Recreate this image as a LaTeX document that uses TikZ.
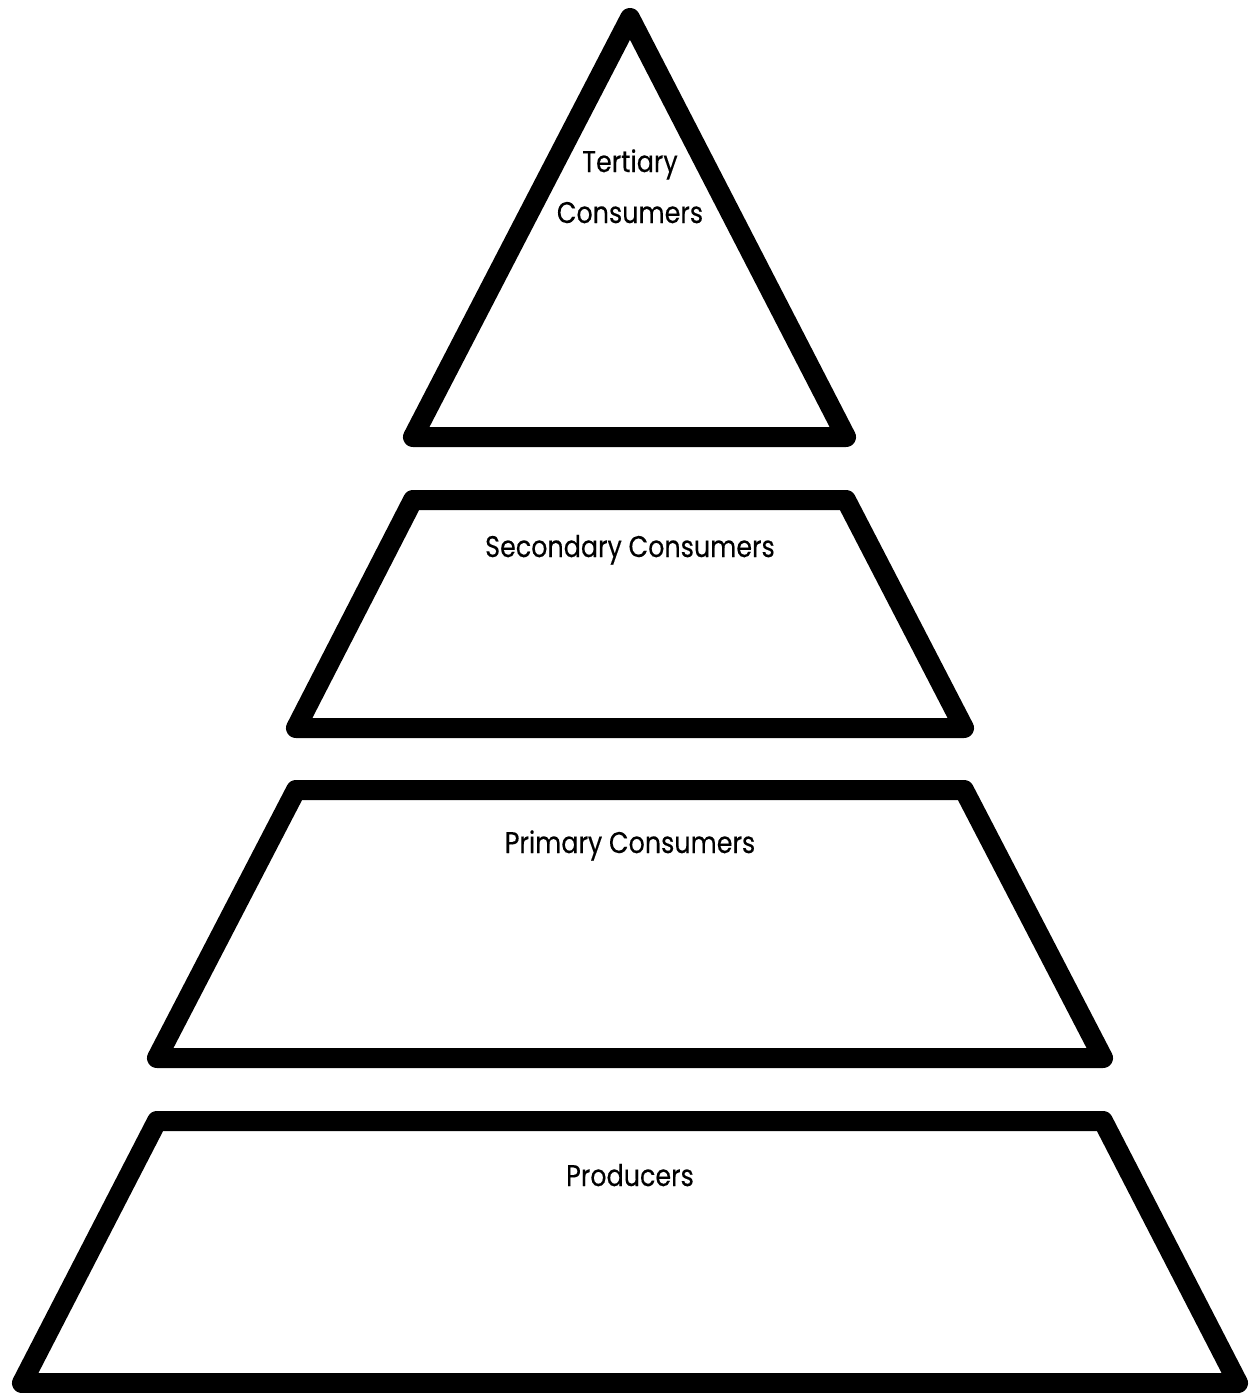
\documentclass[tikz,border=0pt]{standalone}
\usepackage{fontspec}
\setmainfont{Poppins}[FakeStretch=0.85, FakeBold=0.3]
\begin{document}
\begin{tikzpicture}[x={(0.02cm,0cm)},
   y={(0cm,-0.02cm)},
   level/.style={line width=0.4cm, line join=round},
   label text/.style={anchor=base, inner sep=0pt, font=\fontsize{17}{20}\selectfont}]
   %% coordinates are pixels of the page, y grows downward
   \useasboundingbox (0,0) rectangle (1251,1393);
   
   \coordinate (Top) at (630,18);
   \coordinate (Tri1) at (413,437);
   \coordinate (Tri2) at (846,437);
   
   \coordinate (Sec1) at (413,500);
   \coordinate (Sec2) at (846,500);
   \coordinate (Sec3) at (964,728);
   \coordinate (Sec4) at (296,728);
   
   \coordinate (Pri1) at (296,790);
   \coordinate (Pri2) at (964,790);
   \coordinate (Pri3) at (1103,1058);
   \coordinate (Pri4) at (157,1058);
   
   \coordinate (Pro1) at (157,1121);
   \coordinate (Pro2) at (1103,1121);
   \coordinate (Pro3) at (1238,1383);
   \coordinate (Pro4) at (22,1383);
   
   \draw[level] (Top) -- (Tri2) -- (Tri1) -- cycle;
   \draw[level] (Sec1) -- (Sec2) -- (Sec3) -- (Sec4) -- cycle;
   \draw[level] (Pri1) -- (Pri2) -- (Pri3) -- (Pri4) -- cycle;
   \draw[level] (Pro1) -- (Pro2) -- (Pro3) -- (Pro4) -- cycle;
   
   \foreach \v/\h/\t in 
   { tertiary/172/Tertiary,
     tertiaryB/223/Consumers,
     secondary/557/Secondary Consumers,
     primary/853/Primary Consumers,
     producers/1186/Producers
   }
   {
       \node[label text] (\v) at (630,\h) {\t};
   };
   
\end{tikzpicture}
\end{document}
